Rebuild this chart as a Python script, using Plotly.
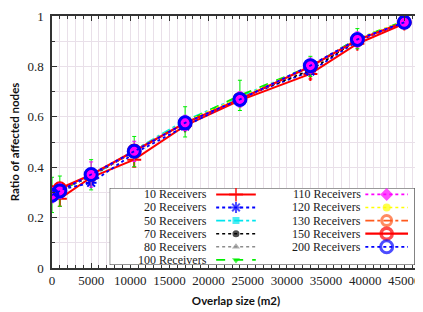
import plotly.graph_objects as go

# ---------------- data ----------------
overlap = [0, 1000, 5000, 10500, 17000, 24000, 33000, 39000, 45000]

series_names = ["10 Receivers", "20 Receivers", "50 Receivers", "70 Receivers",
                "80 Receivers", "100 Receivers", "110 Receivers", "120 Receivers",
                "130 Receivers", "150 Receivers", "200 Receivers"]

r10 = [0.300, 0.275, 0.360, 0.430, 0.565, 0.665, 0.770, 0.890, 0.970]
r20 = [0.290, 0.310, 0.338, 0.455, 0.562, 0.675, 0.780, 0.900, 0.975]
r50 = [0.292, 0.312, 0.362, 0.468, 0.585, 0.680, 0.800, 0.910, 0.978]
r70 = [0.290, 0.308, 0.365, 0.460, 0.575, 0.675, 0.785, 0.905, 0.975]
r80 = [0.290, 0.305, 0.368, 0.460, 0.575, 0.672, 0.795, 0.905, 0.975]
r100 = [0.290, 0.305, 0.370, 0.462, 0.580, 0.685, 0.800, 0.910, 0.980]
r110 = [0.289, 0.306, 0.371, 0.463, 0.576, 0.669, 0.803, 0.907, 0.975]
r120 = [0.292, 0.310, 0.372, 0.465, 0.580, 0.675, 0.800, 0.910, 0.980]
r130 = [0.295, 0.310, 0.370, 0.460, 0.575, 0.670, 0.800, 0.905, 0.975]
r150 = [0.300, 0.315, 0.370, 0.465, 0.575, 0.670, 0.800, 0.905, 0.975]
r200 = [0.289, 0.306, 0.371, 0.463, 0.576, 0.669, 0.803, 0.907, 0.975]

e10 = [0.020, 0.030, 0.020, 0.030, 0.020, 0.020, 0.020, 0.010, 0.005]
e100 = [0.070, 0.060, 0.060, 0.060, 0.060, 0.060, 0.040, 0.040, 0.010]
e110 = [0.030, 0.030, 0.050, 0.040, 0.030, 0.030, 0.030, 0.030, 0.010]

values = [r10, r20, r50, r70, r80, r100, r110, r120, r130, r150, r200]
errors = [e10, None, None, None, None, e100, e110, None, None, None, None]

x_ticks = [0, 5000, 10000, 15000, 20000, 25000, 30000, 35000, 40000, 45000]
y_ticks = [0, 0.2, 0.4, 0.6, 0.8, 1]

# ---------------- styles ----------------
styles = [
    dict(color="#ff0000", dash="solid", width=2.0, symbol="cross-thin", size=10, mlw=2.0),
    dict(color="#0000ff", dash="dot", width=1.8, symbol="asterisk", size=9, mlw=2.0),
    dict(color="#00e5ee", dash="dashdot", width=1.8, symbol="square", size=7, mlw=0),
    dict(color="#000000", dash="3px,3px", width=1.6, symbol="circle", size=7, mlw=0),
    dict(color="#8c8c8c", dash="dot", width=1.4, symbol="triangle-up", size=7, mlw=0),
    dict(color="#00ee00", dash="dash", width=1.8, symbol="triangle-down", size=7, mlw=0),
    dict(color="#ff00ff", dash="dot", width=1.6, symbol="diamond", size=10, mlw=0),
    dict(color="#ffff00", dash="dot", width=1.6, symbol="circle", size=8, mlw=0),
    dict(color="#ff5a1e", dash="dashdot", width=1.6, symbol="circle-open", size=10, mlw=3.0),
    dict(color="#ff0000", dash="solid", width=2.2, symbol="circle-open", size=11, mlw=3.5),
    dict(color="#0000ff", dash="dot", width=1.8, symbol="circle-open", size=12, mlw=3.0),
]
# drawing order of the series (magenta drawn late so it fills the rings)
draw_order = [0, 1, 2, 3, 4, 5, 7, 8, 9, 6, 10]

SERIF = "Liberation Serif, Tinos, Times New Roman, DejaVu Serif, Noto Serif, serif"
SANS_BOLD = "Lato, Open Sans, sans-serif"

fig = go.Figure()

for k in draw_order:
    name, vals, err, st = series_names[k], values[k], errors[k], styles[k]
    kw = {}
    if err is not None:
        kw["error_y"] = dict(type="data", array=err, visible=True,
                             color=st["color"], thickness=1, width=2)
    fig.add_trace(go.Scatter(
        x=overlap, y=vals, name=name, mode="lines+markers",
        line=dict(color=st["color"], dash=st["dash"], width=st["width"]),
        marker=dict(symbol=st["symbol"], size=st["size"], color=st["color"],
                    line=dict(color=st["color"], width=st["mlw"])),
        showlegend=False, xaxis="x", yaxis="y", **kw))

# ---------------- hand-drawn legend (two columns, text then sample) ----------------
# frame of the legend box (drawn on the overlay legend axes, above the main grid)
fig.add_trace(go.Scatter(
    x=[0, 1, 1, 0, 0], y=[0, 0, 6, 6, 0], mode="lines", fill="toself",
    fillcolor="white", line=dict(color="#222222", width=1),
    showlegend=False, hoverinfo="skip", xaxis="x2", yaxis="y2"))

n_left = 6
col_text_x = [0.323, 0.826]
col_line = [(0.349, 0.479), (0.838, 0.978)]
row_step = 1.02
for i, (name, st) in enumerate(zip(series_names, styles)):
    col = 0 if i < n_left else 1
    row = i if i < n_left else i - n_left
    yv = 5.5 - row * row_step
    x0, x1 = col_line[col]
    xm = (x0 + x1) / 2
    fig.add_trace(go.Scatter(
        x=[x0, xm, x1], y=[yv, yv, yv], mode="lines+markers",
        line=dict(color=st["color"], dash=st["dash"], width=st["width"]),
        marker=dict(symbol=st["symbol"], size=[0, st["size"], 0], color=st["color"],
                    line=dict(color=st["color"], width=st["mlw"])),
        showlegend=False, hoverinfo="skip", xaxis="x2", yaxis="y2"))
    fig.add_annotation(x=col_text_x[col], y=yv, xref="x2", yref="y2", text=name,
                       showarrow=False, xanchor="right", yanchor="middle", borderpad=0,
                       font=dict(family=SERIF, size=12, color="#1a1a1a"))

grid_col = "#e9e0e9"
tick_font = dict(family=SERIF, size=13, color="#222222")
title_font = dict(family=SANS_BOLD, size=11.5, color="#111111", weight="bold")

fig.update_layout(
    width=415, height=304,
    margin=dict(l=44, r=1, t=5, b=44),
    paper_bgcolor="white", plot_bgcolor="white",
    showlegend=False,
    xaxis=dict(
        domain=[0, 1], range=[0, 47000], tickvals=x_ticks,
        ticktext=[str(v) for v in x_ticks],
        ticks="inside", ticklen=5, tickwidth=1, tickcolor="#333333",
        showline=True, linecolor="#333333", linewidth=1.5, mirror="ticks",
        showgrid=True, gridcolor=grid_col, gridwidth=1, zeroline=False,
        minor=dict(dtick=1000, tick0=0, ticks="inside", ticklen=3, tickcolor="#333333",
                   showgrid=True, gridcolor=grid_col, gridwidth=1),
        tickfont=tick_font, ticklabelstandoff=0, ticklabeloverflow="allow",
        title=dict(text="Overlap size (m2)", font=title_font, standoff=10),
    ),
    yaxis=dict(
        domain=[0, 1], range=[0, 1], tickvals=y_ticks,
        ticktext=["0", "0.2", "0.4", "0.6", "0.8", "1"],
        ticks="inside", ticklen=5, tickwidth=1, tickcolor="#333333",
        showline=True, linecolor="#333333", linewidth=1.5, mirror="ticks",
        showgrid=True, gridcolor=grid_col, gridwidth=1, zeroline=False,
        minor=dict(dtick=0.1, tick0=0, ticks="inside", ticklen=3, tickcolor="#333333",
                   showgrid=True, gridcolor=grid_col, gridwidth=1),
        tickfont=tick_font, ticklabelstandoff=4, ticklabeloverflow="allow",
        title=dict(text="Ratio of affected nodes", font=title_font, standoff=6),
    ),
    xaxis2=dict(domain=[0.1568, 0.9857], range=[0, 1], visible=False, anchor="y2",
                fixedrange=True),
    yaxis2=dict(domain=[0.0118, 0.3176], range=[0, 6], visible=False, anchor="x2",
                fixedrange=True),
)

fig.write_html("out.html")
